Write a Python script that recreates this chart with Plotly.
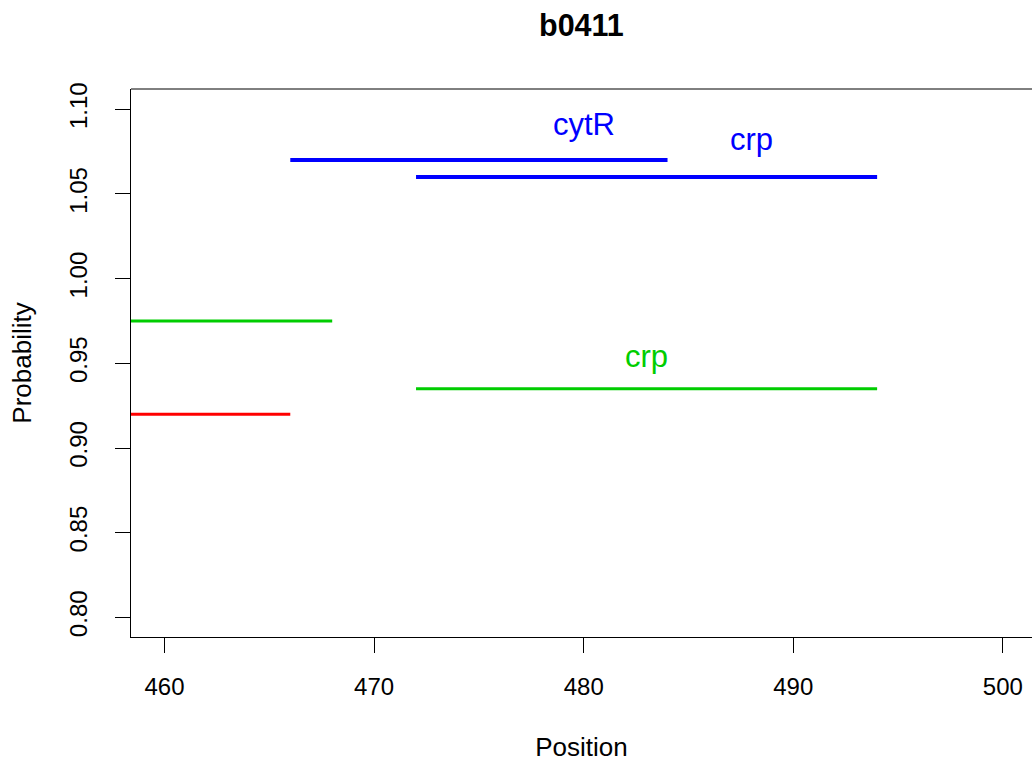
import plotly.graph_objects as go

# segments: (start, end, probability, colour)
seg_start = [466, 472, 446, 448, 472]
seg_end = [484, 494, 468, 466, 494]
seg_prob = [1.07, 1.06, 0.975, 0.92, 0.935]
seg_color = ["#0000FF", "#0000FF", "#00CD00", "#FF0000", "#00CD00"]
seg_width = [4, 4, 3, 3, 3]

# labels
lab_text = ["cytR", "crp", "crp"]
lab_x = [480, 488, 483]
lab_y = [1.091, 1.082, 0.954]
lab_color = ["#0000FF", "#0000FF", "#00CD00"]

x_ticks = [460, 470, 480, 490, 500]
y_ticks = [0.80, 0.85, 0.90, 0.95, 1.00, 1.05, 1.10]

FONT = "Liberation Sans, Arial, Helvetica, sans-serif"

fig = go.Figure()
for s, e, p, c, w in zip(seg_start, seg_end, seg_prob, seg_color, seg_width):
    fig.add_trace(go.Scatter(x=[s, e], y=[p, p], mode="lines",
                             line=dict(color=c, width=w), showlegend=False,
                             hoverinfo="skip"))

for t, x, y, c in zip(lab_text, lab_x, lab_y, lab_color):
    fig.add_annotation(x=x, y=y, xref="x", yref="y", text=t, showarrow=False,
                       font=dict(family=FONT, size=31, color=c),
                       xanchor="center", yanchor="middle")

# title
fig.add_annotation(x=0.5, y=1, xref="paper", yref="paper", yshift=64,
                   text="<b>b0411</b>", showarrow=False,
                   font=dict(family=FONT, size=30.5, color="black"),
                   xanchor="center", yanchor="middle")

# top border of the plot box
fig.add_shape(type="line", xref="paper", yref="paper", x0=0, x1=1.01, y0=1, y1=1,
              line=dict(color="black", width=1))

fig.update_layout(
    width=1032, height=762,
    margin=dict(l=131, r=0, t=89, b=125),
    paper_bgcolor="white", plot_bgcolor="white",
    font=dict(family=FONT, color="black"),
    xaxis=dict(range=[458.40, 501.39], tickvals=x_ticks, ticktext=[str(v) for v in x_ticks],
               showgrid=False, zeroline=False, showline=True, linecolor="black", linewidth=1,
               ticks="outside", ticklen=15, tickcolor="black", tickwidth=1,
               tickfont=dict(family=FONT, size=24, color="black"),
               ticklabelstandoff=13,
               title=dict(text="Position", font=dict(family=FONT, size=26, color="black"),
                          standoff=39)),
    yaxis=dict(range=[0.7884, 1.112], tickvals=y_ticks, ticktext=[f"{v:.2f}" for v in y_ticks],
               tickangle=-90,
               showgrid=False, zeroline=False, showline=True, linecolor="black", linewidth=1,
               ticks="outside", ticklen=15, tickcolor="black", tickwidth=1,
               tickfont=dict(family=FONT, size=24, color="black"),
               ticklabelstandoff=18,
               title=dict(text="Probability", font=dict(family=FONT, size=26, color="black"),
                          standoff=26)),
)

fig.write_html("out.html", config={"displayModeBar": False},
               post_script="document.body.style.margin='0';document.body.style.overflow='hidden';")
